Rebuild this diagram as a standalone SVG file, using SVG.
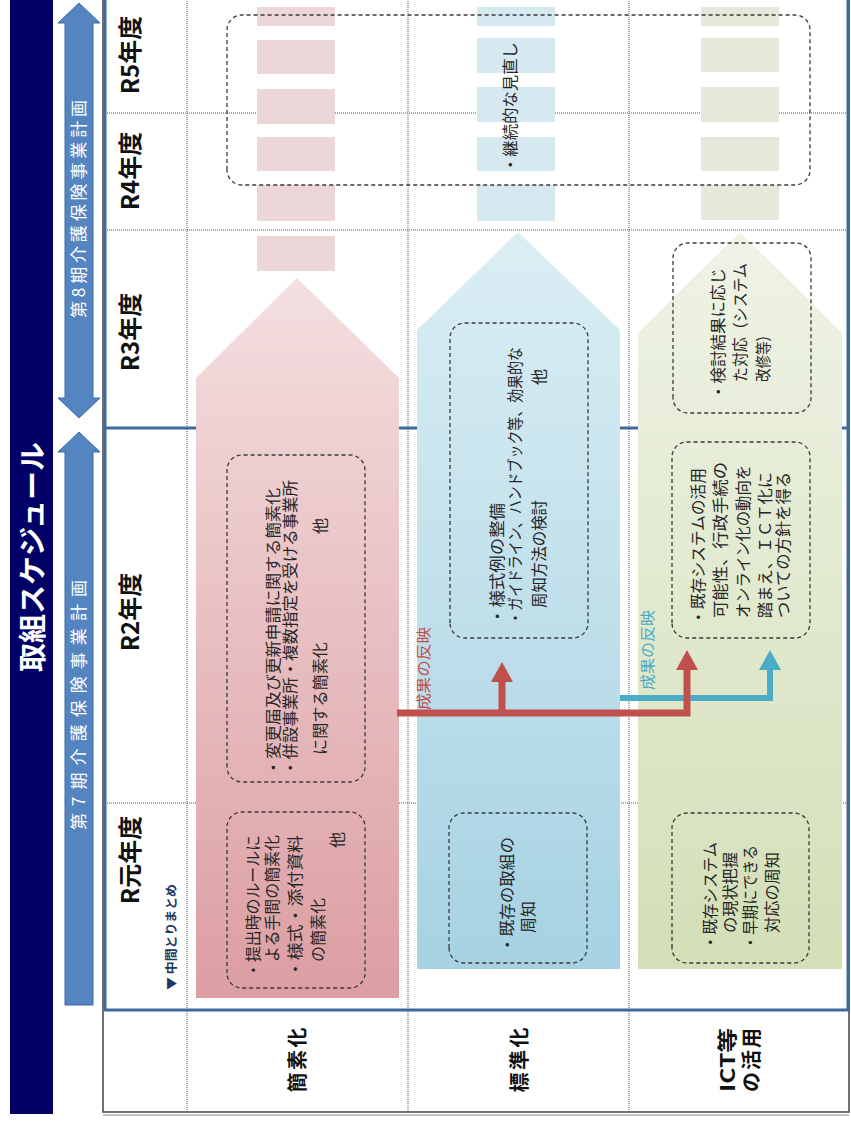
<svg xmlns="http://www.w3.org/2000/svg" width="851" height="1124" viewBox="0 0 851 1124">
  <defs>
    <style>
      .jp { font-family: "Noto Sans CJK JP", "Noto Sans", sans-serif; }
      .box { fill: none; stroke: #3a3a3a; stroke-width: 1.3; stroke-dasharray: 4 3; }
      .dot { fill: none; stroke: #555; stroke-width: 1; stroke-dasharray: 1 1; }
      .bt { font-size: 16px; fill: #262626; }
      .yr { font-size: 24px; font-weight: bold; fill: #111; text-anchor: middle; }
      .row { font-size: 20px; font-weight: bold; fill: #111; text-anchor: middle; }
      .per { font-size: 17px; fill: #fff; text-anchor: middle; }
      .seg-p { fill: #ecd6d7; }
      .seg-b { fill: #d6e9f0; }
      .seg-g { fill: #e6e9da; }
      .period { fill: #5585c0; stroke: #3d6aa3; stroke-width: 1; }
    </style>
    <linearGradient id="gPink" gradientUnits="userSpaceOnUse" x1="126" y1="0" x2="846" y2="0">
      <stop offset="0" stop-color="#dc9ea2"/>
      <stop offset="1" stop-color="#f4dfe0"/>
    </linearGradient>
    <linearGradient id="gBlue" gradientUnits="userSpaceOnUse" x1="155" y1="0" x2="892" y2="0">
      <stop offset="0" stop-color="#a6d2e2"/>
      <stop offset="1" stop-color="#dbeef4"/>
    </linearGradient>
    <linearGradient id="gGreen" gradientUnits="userSpaceOnUse" x1="155" y1="0" x2="892" y2="0">
      <stop offset="0" stop-color="#d3dfb7"/>
      <stop offset="1" stop-color="#eff3e6"/>
    </linearGradient>
  </defs>

  <rect width="851" height="1124" fill="#fff"/>

  <!-- the slide is laid out in landscape and turned a quarter turn -->
  <g transform="translate(0,1124) rotate(-90)">

    <!-- heading band -->
    <g id="title">
      <rect x="10" y="10" width="1116" height="43" fill="#000066"/>
      <text class="jp" x="567" y="43" font-size="28" font-weight="bold" fill="#fff" text-anchor="middle" textLength="230" lengthAdjust="spacingAndGlyphs">取組スケジュール</text>
    </g>

    <!-- plan periods -->
    <g id="period-8">
      <path class="period" d="M706,79 L726,58 L726,65 L1101,65 L1101,58 L1121,79 L1101,100 L1101,93 L726,93 L726,100 Z"/>
      <text class="jp per" x="915" y="85" textLength="218" lengthAdjust="spacing">第8期介護保険事業計画</text>
    </g>
    <g id="period-7">
      <path class="period" d="M119,65 L672,65 L672,58 L692,79 L672,100 L672,93 L119,93 Z"/>
      <text class="jp per" x="419" y="85" textLength="250" lengthAdjust="spacing">第7期介護保険事業計画</text>
    </g>

    <!-- table grid -->
    <g id="grid">
      <rect x="12" y="103" width="1114" height="746" fill="none" stroke="#444" stroke-width="1.5"/>
      <line x1="9" y1="103" x2="9" y2="849" stroke="#888" stroke-width="1"/>
      <line class="dot" x1="12" y1="187" x2="1124" y2="187"/>
      <line class="dot" x1="12" y1="408" x2="1124" y2="408"/>
      <line class="dot" x1="12" y1="629" x2="1124" y2="629"/>
      <line class="dot" x1="1011" y1="105" x2="1011" y2="848"/>
      <line class="dot" x1="894" y1="105" x2="894" y2="848"/>
      <line class="dot" x1="321" y1="105" x2="321" y2="848"/>
      <line x1="696" y1="105" x2="696" y2="848" stroke="#41699c" stroke-width="3"/>
      <rect x="114" y="105" width="1016" height="743" fill="none" stroke="#41699c" stroke-width="3"/>
    </g>

    <!-- year headings -->
    <g id="years" class="jp">
      <text class="yr" x="1069" y="139">R5年度</text>
      <text class="yr" x="953" y="139">R4年度</text>
      <text class="yr" x="792" y="139">R3年度</text>
      <text class="yr" x="512" y="139">R2年度</text>
      <text class="yr" x="264" y="139">R元年度</text>
      <text x="134" y="176" font-size="12" font-weight="bold" fill="#1f3864" textLength="106" lengthAdjust="spacingAndGlyphs">▼ 中間とりまとめ</text>
    </g>

    <!-- row headings -->
    <g id="rows" class="jp">
      <text class="row" x="64" y="305" textLength="65" lengthAdjust="spacing">簡素化</text>
      <text class="row" x="64" y="527" textLength="65" lengthAdjust="spacing">標準化</text>
      <text class="row" x="64" y="735" textLength="64" lengthAdjust="spacingAndGlyphs">ICT等</text>
      <text class="row" x="64" y="759" textLength="64" lengthAdjust="spacing">の活用</text>
    </g>

    <!-- simplification track -->
    <g id="arrow-simplify">
      <polygon points="126,196 126,399 746,399 846,297 746,196" fill="url(#gPink)"/>
      <rect class="seg-p" x="853" y="257" width="35" height="78"/>
      <rect class="seg-p" x="903" y="257" width="36" height="78"/>
      <rect class="seg-p" x="953" y="257" width="34" height="78"/>
      <rect class="seg-p" x="1000" y="257" width="35" height="78"/>
      <rect class="seg-p" x="1050" y="257" width="34" height="78"/>
      <rect class="seg-p" x="1098" y="257" width="19" height="78"/>
    </g>

    <!-- standardisation track -->
    <g id="arrow-standard">
      <polygon points="155,417 155,620 794,620 892,518 794,417" fill="url(#gBlue)"/>
      <rect class="seg-b" x="903" y="477" width="36" height="78"/>
      <rect class="seg-b" x="953" y="477" width="34" height="78"/>
      <rect class="seg-b" x="1002" y="477" width="35" height="78"/>
      <rect class="seg-b" x="1051" y="477" width="35" height="78"/>
      <rect class="seg-b" x="1098" y="477" width="19" height="78"/>
    </g>

    <!-- ICT track -->
    <g id="arrow-ict">
      <polygon points="155,638 155,842 791,842 892,740 791,638" fill="url(#gGreen)"/>
      <rect class="seg-g" x="904" y="701" width="35" height="78"/>
      <rect class="seg-g" x="953" y="701" width="34" height="78"/>
      <rect class="seg-g" x="1002" y="701" width="35" height="78"/>
      <rect class="seg-g" x="1052" y="701" width="34" height="78"/>
      <rect class="seg-g" x="1098" y="701" width="19" height="78"/>
    </g>

    <!-- task boxes -->
    <g id="box-review" class="jp">
      <rect class="box" x="939" y="227" width="170" height="583" rx="15"/>
      <text class="bt" x="951" y="516" textLength="131" lengthAdjust="spacingAndGlyphs">・継続的な見直し</text>
    </g>

    <g id="box-simplify-r1" class="jp">
      <rect class="box" x="136" y="227" width="176" height="138" rx="15"/>
      <text class="bt" x="146" y="259" textLength="143" lengthAdjust="spacingAndGlyphs">・提出時のルールに</text>
      <text class="bt" x="162" y="278" textLength="127" lengthAdjust="spacingAndGlyphs">よる手間の簡素化</text>
      <text class="bt" x="146" y="301" textLength="143" lengthAdjust="spacingAndGlyphs">・様式・添付資料</text>
      <text class="bt" x="162" y="324" textLength="64" lengthAdjust="spacingAndGlyphs">の簡素化</text>
      <text class="bt" x="284" y="343" text-anchor="middle">他</text>
    </g>

    <g id="box-simplify-r2" class="jp">
      <rect class="box" x="342" y="227" width="327" height="138" rx="15"/>
      <text class="bt" x="348" y="279" textLength="288" lengthAdjust="spacingAndGlyphs">・変更届及び更新申請に関する簡素化</text>
      <text class="bt" x="348" y="296" textLength="296" lengthAdjust="spacingAndGlyphs">・併設事業所・複数指定を受ける事業所</text>
      <text class="bt" x="369" y="326" textLength="113" lengthAdjust="spacingAndGlyphs">に関する簡素化</text>
      <text class="bt" x="598" y="326" text-anchor="middle">他</text>
    </g>

    <g id="box-standard-r1" class="jp">
      <rect class="box" x="161" y="449" width="150" height="138" rx="15"/>
      <text class="bt" x="171" y="513" textLength="116" lengthAdjust="spacingAndGlyphs">・既存の取組の</text>
      <text class="bt" x="191" y="534" textLength="32" lengthAdjust="spacingAndGlyphs">周知</text>
    </g>

    <g id="box-standard-r2" class="jp">
      <rect class="box" x="486" y="450" width="315" height="138" rx="15"/>
      <text class="bt" x="499" y="503" textLength="122" lengthAdjust="spacingAndGlyphs">・様式例の整備</text>
      <text class="bt" x="499" y="521" textLength="278" lengthAdjust="spacingAndGlyphs">・ガイドライン、ハンドブック等、効果的な</text>
      <text class="bt" x="516" y="545" textLength="108" lengthAdjust="spacingAndGlyphs">周知方法の検討</text>
      <text class="bt" x="747" y="545" text-anchor="middle">他</text>
    </g>

    <g id="box-ict-r1" class="jp">
      <rect class="box" x="161" y="672" width="150" height="137" rx="15"/>
      <text class="bt" x="174" y="716" textLength="108" lengthAdjust="spacingAndGlyphs">・既存システム</text>
      <text class="bt" x="191" y="736" textLength="81" lengthAdjust="spacingAndGlyphs">の現状把握</text>
      <text class="bt" x="174" y="756" textLength="105" lengthAdjust="spacingAndGlyphs">・早期にできる</text>
      <text class="bt" x="191" y="778" textLength="81" lengthAdjust="spacingAndGlyphs">対応の周知</text>
    </g>

    <g id="box-ict-r2" class="jp">
      <rect class="box" x="486" y="672" width="196" height="138" rx="15"/>
      <text class="bt" x="499" y="704" textLength="157" lengthAdjust="spacingAndGlyphs">・既存システムの活用</text>
      <text class="bt" x="506" y="726" textLength="156" lengthAdjust="spacingAndGlyphs">可能性、行政手続の</text>
      <text class="bt" x="506" y="749" textLength="153" lengthAdjust="spacingAndGlyphs">オンライン化の動向を</text>
      <text class="bt" x="506" y="771" textLength="146" lengthAdjust="spacingAndGlyphs">踏まえ、ＩＣＴ化に</text>
      <text class="bt" x="506" y="789" textLength="146" lengthAdjust="spacingAndGlyphs">ついての方針を得る</text>
    </g>

    <g id="box-ict-r3" class="jp">
      <rect class="box" x="711" y="673" width="170" height="138" rx="15"/>
      <text class="bt" x="724" y="724" textLength="132" lengthAdjust="spacingAndGlyphs">・検討結果に応じ</text>
      <text class="bt" x="742" y="746" textLength="119" lengthAdjust="spacingAndGlyphs">た対応（システム</text>
      <text class="bt" x="742" y="769" textLength="54" lengthAdjust="spacingAndGlyphs">改修等）</text>
    </g>

    <!-- feedback connectors -->
    <g id="connectors">
      <path d="M426,620 L426,770 L456,770" fill="none" stroke="#4bacc6" stroke-width="6"/>
      <polygon points="454,759 474,770 454,781" fill="#4bacc6"/>
      <path d="M411,397 L411,687 L456,687 M411,502 L444,502" fill="none" stroke="#c0504d" stroke-width="7"/>
      <polygon points="454,676 474,687 454,698" fill="#c0504d"/>
      <polygon points="442,491 462,502 442,513" fill="#c0504d"/>
      <text class="jp" x="414" y="429" font-size="15" fill="#c0504d" textLength="83" lengthAdjust="spacingAndGlyphs">成果の反映</text>
      <text class="jp" x="434" y="653" font-size="15" fill="#4bacc6" textLength="80" lengthAdjust="spacingAndGlyphs">成果の反映</text>
    </g>
  </g>
</svg>
